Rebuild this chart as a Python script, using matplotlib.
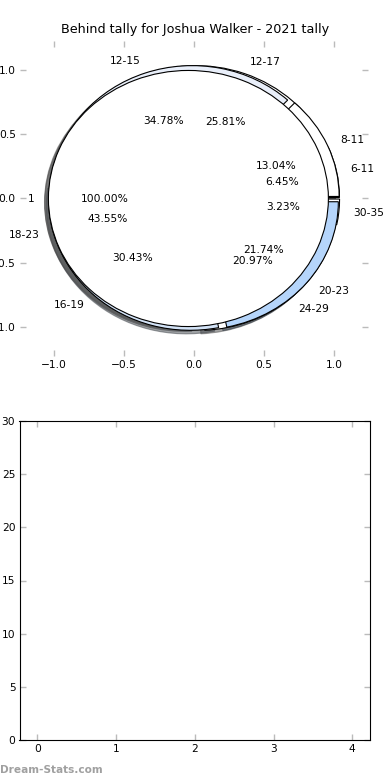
import matplotlib
matplotlib.use("Agg")
import matplotlib.pyplot as plt

# three overlapping pies, drawn in this order
b_labels = ['6-11', '12-17', '18-23', '24-29', '30-35']
b_counts = [4, 16, 27, 13, 2]
b_colors = ['white', 'white', 'white', 'white', 'white']

a_labels = ['8-11', '12-15', '16-19', '20-23']
a_counts = [3, 8, 7, 5]
a_colors = ['white', '#e9effa', '#d3e3f7', '#b5d5fb']

c_labels = ['1']
c_counts = [1]
c_colors = ['white']

title = 'Behind tally for Joshua Walker - 2021 tally'

fig = plt.figure(figsize=(3.9, 7.8), dpi=100)
ax = fig.add_axes([20 / 390, 1 - 356 / 780, 348 / 390, 315 / 780])
ax2 = fig.add_axes([19.5 / 390, 1 - 740 / 780, 350.5 / 390, 319 / 780])

fs = 7.7
for vals, labs, cols in [(b_counts, b_labels, b_colors),
                         (a_counts, a_labels, a_colors),
                         (c_counts, c_labels, c_colors)]:
    wedges, texts, autotexts = ax.pie(
        vals, labels=labs, colors=cols, explode=[0.04] * len(vals),
        autopct='%1.2f%%', shadow=True, frame=True,
        wedgeprops={'edgecolor': 'black', 'linewidth': 0.8},
        textprops={'fontsize': fs})

ax.set_aspect('auto')
ax.set_xlim(-1.243, 1.243)
ax.set_ylim(-1.23, 1.23)
ax.set_xticks([-1.0, -0.5, 0.0, 0.5, 1.0])
ax.set_yticks([-1.0, -0.5, 0.0, 0.5, 1.0])
ax.set_xticklabels(['\u22121.0', '\u22120.5', '0.0', '0.5', '1.0'])
ax.set_yticklabels(['\u22121.0', '\u22120.5', '0.0', '0.5', '1.0'])
for s in ax.spines.values():
    s.set_visible(False)

for a in (ax, ax2):
    a.tick_params(direction='in', length=4, width=1, color='#bbbbbb',
                  labelsize=fs, top=True, right=True, pad=3)

ax2.set_xlim(-0.225, 4.225)
ax2.set_ylim(0, 30)
ax2.set_xticks(range(5))
ax2.set_yticks(range(0, 31, 5))

fig.text(0.5, 1 - 30 / 780, title, ha='center', va='center', fontsize=9.2)
fig.text(0.0, 1 - 770 / 780, 'Dream-Stats.com', ha='left', va='center',
         fontsize=7.6, color='#a0a0a0', fontweight='bold')

fig.savefig('out.png', dpi=100)
